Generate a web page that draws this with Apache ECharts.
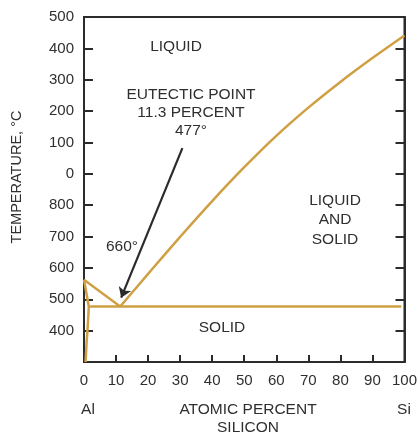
<!DOCTYPE html>
<html>
<head>
<meta charset="utf-8">
<script src="https://cdn.jsdelivr.net/npm/echarts@6/dist/echarts.min.js"></script>
<style>
  html, body { margin: 0; padding: 0; background: #fff; }
  #chart { width: 420px; height: 435px; }
</style>
</head>
<body>
<div id="chart"></div>
<script>
// Aluminium–silicon phase diagram (temperature vs. atomic percent silicon)

// x ticks, atomic percent silicon
const xTicks = [0, 10, 20, 30, 40, 50, 60, 70, 80, 90, 100];

// y scale runs 300..1400 internally; printed labels follow the broken scale
const yTickValues = [300, 400, 500, 600, 700, 800, 900, 1000, 1100, 1200, 1300, 1400];
const yTickLabels = ['', '400', '500', '600', '700', '800', '0', '100', '200', '300', '400', '500'];

// liquidus, aluminium side (melting point down to the eutectic)
const liquidusAlX = [0, 11.3];
const liquidusAlT = [562, 477];

// liquidus, silicon side (eutectic up to pure silicon)
const liquidusSiX = [11.3, 20, 30, 40, 50, 60, 70, 80, 90, 100];
const liquidusSiT = [477, 581, 699, 813, 921, 1021, 1111, 1193, 1269, 1341];

// eutectic horizontal
const eutecticX = [1.5, 99];
const eutecticT = [477, 477];

// aluminium-rich solidus and solvus
const solidusAlX = [0, 1.5, 1.2, 0.8, 0.5];
const solidusAlT = [562, 477, 420, 360, 300];

// eutectic point annotation arrow (tail, head)
const arrowX = [30.7, 11.6];
const arrowT = [982, 505];

const pairs = (xs, ys) => xs.map((x, i) => [x, ys[i]]);

const GOLD = '#cfa043';
const INK = '#2b2b2b';
const TEXT = '#2f2f2f';
const FONT = '"Liberation Sans", Arial, sans-serif';

const chart = echarts.init(document.getElementById('chart'), null, { renderer: 'canvas' });

const lineSeries = (xs, ys, smooth) => ({
  type: 'line',
  data: pairs(xs, ys),
  smooth: smooth || false,
  symbol: 'none',
  lineStyle: { color: GOLD, width: 2.5 },
  silent: true,
  z: 3
});

const txt = (x, y, s, size, rot) => ({
  type: 'text',
  x: x, y: y,
  rotation: rot || 0,
  style: {
    text: s, fill: TEXT, font: (size || 15.5) + 'px ' + FONT,
    align: 'center', verticalAlign: 'middle'
  }
});

chart.setOption({
  animation: false,
  backgroundColor: '#ffffff',
  grid: {
    left: 84, right: 13, top: 17, bottom: 73,
    show: true, borderColor: INK, borderWidth: 2, backgroundColor: 'transparent'
  },
  xAxis: {
    type: 'value', min: xTicks[0], max: xTicks[xTicks.length - 1], interval: 10,
    axisLine: { show: true, onZero: false, lineStyle: { color: INK, width: 2 } },
    axisTick: { show: true, inside: true, length: 7, lineStyle: { color: INK, width: 2 } },
    axisLabel: {
      show: true, margin: 11, color: TEXT, fontFamily: FONT, fontSize: 15,
      showMinLabel: true, showMaxLabel: true
    },
    splitLine: { show: false }
  },
  yAxis: [
    {
      type: 'value', min: yTickValues[0], max: yTickValues[yTickValues.length - 1], interval: 100,
      axisLine: { show: true, onZero: false, lineStyle: { color: INK, width: 2 } },
      axisTick: { show: true, inside: true, length: 9, lineStyle: { color: INK, width: 2 } },
      axisLabel: {
        show: true, margin: 10, color: TEXT, fontFamily: FONT, fontSize: 15,
        showMinLabel: true, showMaxLabel: true,
        formatter: v => yTickLabels[yTickValues.indexOf(v)] || ''
      },
      splitLine: { show: false }
    },
    {
      type: 'value', position: 'right',
      min: yTickValues[0], max: yTickValues[yTickValues.length - 1], interval: 100,
      axisLine: { show: true, onZero: false, lineStyle: { color: INK, width: 2 } },
      axisTick: { show: true, inside: true, length: 9, lineStyle: { color: INK, width: 2 } },
      axisLabel: { show: false },
      splitLine: { show: false }
    }
  ],
  series: [
    lineSeries(eutecticX, eutecticT),
    lineSeries(solidusAlX, solidusAlT),
    lineSeries(liquidusAlX, liquidusAlT),
    lineSeries(liquidusSiX, liquidusSiT, 0.4),
    {
      type: 'lines',
      coordinateSystem: 'cartesian2d',
      silent: true,
      z: 4,
      symbol: ['none', 'arrow'],
      symbolSize: 10,
      lineStyle: { color: INK, width: 2.2, opacity: 1 },
      data: [{ coords: pairs(arrowX, arrowT) }]
    }
  ],
  graphic: [
    txt(17, 177, 'TEMPERATURE, °C', 14.5, Math.PI / 2),
    txt(176, 47, 'LIQUID'),
    txt(191, 95, 'EUTECTIC POINT'),
    txt(191, 113, '11.3 PERCENT'),
    txt(191, 131, '477°'),
    txt(122, 247, '660°'),
    txt(335, 201, 'LIQUID'),
    txt(335, 220, 'AND'),
    txt(335, 240, 'SOLID'),
    txt(222, 328, 'SOLID'),
    txt(88, 410, 'Al'),
    txt(248, 410, 'ATOMIC PERCENT'),
    txt(248, 428, 'SILICON'),
    txt(404, 410, 'Si')
  ]
});
</script>
</body>
</html>
